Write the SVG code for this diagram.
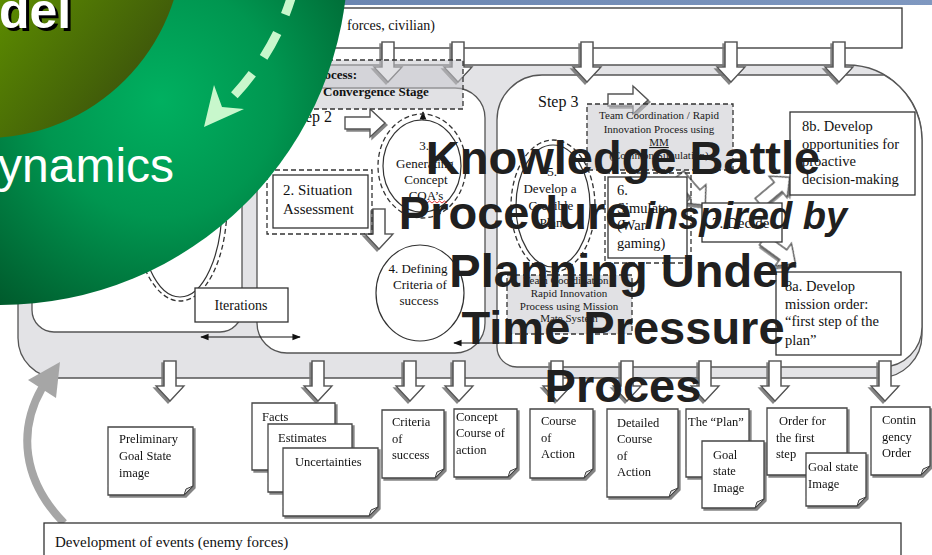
<svg xmlns="http://www.w3.org/2000/svg" xmlns:xlink="http://www.w3.org/1999/xlink" width="932" height="555" viewBox="0 0 932 555">
  <defs>
    <style>
      .serif { font-family: "Liberation Serif", "Times New Roman", serif; fill: #111; }
      .box { fill: #fff; stroke: #333; stroke-width: 1.3; }
      .dash { fill: none; stroke: #333; stroke-width: 1.3; stroke-dasharray: 5 3; }
      .shade { fill: rgba(200, 200, 206, 0.55); stroke: #333; stroke-width: 1.3; stroke-dasharray: 5 3; }
      .region { fill: #fff; stroke: #555; stroke-width: 1.3; }
      .blk { fill: #fff; stroke: #555; stroke-width: 1.4; filter: url(#shadow); }
      .doc path.paper { fill: #fff; stroke: #444; stroke-width: 1.3; }
      .doc path.fold { fill: #d8d8d8; stroke: #444; stroke-width: 1; }
      .doc { filter: url(#shadow); }
      .small { font-size: 11px; font-weight: normal; fill: #1a1a1a; }
      .title { font-family: "Liberation Sans", Arial, sans-serif; font-weight: bold; font-size: 47px; fill: #202020; }
      .slide { font-family: "Liberation Sans", Arial, sans-serif; }
    </style>
    <filter id="shadow" x="-10%" y="-10%" width="130%" height="130%">
      <feDropShadow dx="2" dy="2" stdDeviation="0.6" flood-color="#777" flood-opacity="0.9"/>
    </filter>
    <!-- hollow block arrow, pointing along +x, 40 long -->
    <path id="harrow" d="M0,-6 H25 V-14 L40,0 L25,14 V6 H0 Z"/>
    <marker id="tip" viewBox="0 0 10 10" refX="9" refY="5" markerWidth="7" markerHeight="7" orient="auto-start-reverse">
      <path d="M0,1 L10,5 L0,9 Z" fill="#111"/>
    </marker>
    <linearGradient id="topband" x1="0" y1="0" x2="1" y2="0">
      <stop offset="0" stop-color="#5f7ba8"/>
      <stop offset="1" stop-color="#7f98c0"/>
    </linearGradient>
    <radialGradient id="ring" gradientUnits="userSpaceOnUse" cx="160" cy="100" r="260">
      <stop offset="0" stop-color="#00b060"/>
      <stop offset="0.45" stop-color="#009650"/>
      <stop offset="1" stop-color="#005a2c"/>
    </radialGradient>
    <linearGradient id="olive" gradientUnits="userSpaceOnUse" x1="0" y1="0" x2="170" y2="140">
      <stop offset="0" stop-color="#5c8c00"/>
      <stop offset="0.55" stop-color="#456408"/>
      <stop offset="1" stop-color="#33400f"/>
    </linearGradient>
  </defs>

  <rect width="932" height="555" fill="#fff"/>
  <rect x="0" y="0" width="932" height="5" fill="url(#topband)"/>

  <!-- environment input box -->
  <g id="top-events">
    <rect class="box" x="200" y="8" width="702" height="40"/>
    <text class="serif" x="347" y="30" font-size="14">forces, civilian)</text>
  </g>

  <!-- process frame -->
  <g id="frame">
    <path d="M18,110 A45,45 0 0 1 63,65 L847,65 A75,75 0 0 1 922,140 L922,335 A43,43 0 0 1 879,378 L58,378 A40,40 0 0 1 18,338 Z" fill="#e3e3e6" stroke="#555" stroke-width="1.3"/>
  </g>
  <g id="step1-region">
    <rect class="region" x="32" y="78" width="210" height="254" rx="22"/>
  </g>
  <g id="step2-region">
    <rect class="region" x="257" y="88" width="228" height="265" rx="30"/>
  </g>
  <g id="step3-region">
    <path class="region" d="M497,120 A45,45 0 0 1 542,75 L884,75 A75,75 0 0 1 922,140 L922,327 A40,40 0 0 1 882,367 L517,367 A20,20 0 0 1 497,347 Z"/>
  </g>

  <!-- connectors -->
  <g id="connectors">
    <use href="#harrow" class="blk" transform="translate(388,42) rotate(90)"/>
    <use href="#harrow" class="blk" transform="translate(458,42) rotate(90)"/>
    <use href="#harrow" class="blk" transform="translate(587,42) rotate(90)"/>
    <use href="#harrow" class="blk" transform="translate(731,42) rotate(90)"/>
    <use href="#harrow" class="blk" transform="translate(839,42) rotate(90)"/>

    <use href="#harrow" class="blk" transform="translate(345,123)"/>
    <use href="#harrow" class="blk" transform="translate(379,209) rotate(90)"/>
    <use href="#harrow" class="blk" transform="translate(608,100)"/>
    <use href="#harrow" class="blk" transform="translate(679,175) rotate(49)"/>
    <use href="#harrow" class="blk" transform="translate(759,203) rotate(-40)"/>
    <use href="#harrow" class="blk" transform="translate(763,240) rotate(36)"/>

    <use href="#harrow" class="blk" transform="translate(170,361) rotate(90)"/>
    <use href="#harrow" class="blk" transform="translate(318,361) rotate(90)"/>
    <use href="#harrow" class="blk" transform="translate(410,361) rotate(90)"/>
    <use href="#harrow" class="blk" transform="translate(459,361) rotate(90)"/>
    <use href="#harrow" class="blk" transform="translate(557,361) rotate(90)"/>
    <use href="#harrow" class="blk" transform="translate(627,361) rotate(90)"/>
    <use href="#harrow" class="blk" transform="translate(705,361) rotate(90)"/>
    <use href="#harrow" class="blk" transform="translate(775,361) rotate(90)"/>
    <use href="#harrow" class="blk" transform="translate(885,361) rotate(90)"/>

    <line x1="201" y1="337" x2="300" y2="337" stroke="#111" stroke-width="1.2" marker-start="url(#tip)" marker-end="url(#tip)"/>
    <line x1="520" y1="343" x2="454" y2="343" stroke="#111" stroke-width="1.2" marker-end="url(#tip)"/>
    <line x1="423" y1="121" x2="423" y2="112" stroke="#111" stroke-width="1.2" marker-end="url(#tip)"/>

    <!-- feedback of events into the process -->
    <path d="M64,523 C22,480 18,430 42,388" fill="none" stroke="#a6a6a6" stroke-width="8"/>
    <polygon points="60,362 28,380 56,398" fill="#a6a6a6"/>
  </g>

  <!-- step 1 -->
  <g id="step1-plan">
    <ellipse cx="180" cy="205" rx="42" ry="92" fill="none" stroke="#333" stroke-width="1.2"/>
    <ellipse class="dash" cx="180" cy="205" rx="47" ry="96"/>
  </g>
  <g id="iterations">
    <rect class="box" x="195" y="288" width="93" height="34"/>
    <text class="serif" x="241" y="310" font-size="14" text-anchor="middle">Iterations</text>
  </g>

  <!-- step 2 -->
  <g id="step2-label">
    <text class="serif" x="332" y="122" font-size="16" text-anchor="end">Step 2</text>
  </g>
  <g id="convergence">
    <rect class="shade" x="200" y="60" width="263" height="49"/>
    <text class="serif" x="357" y="79" font-size="13" font-weight="bold" text-anchor="end">Process:</text>
    <text class="serif" x="323" y="96" font-size="13" font-weight="bold">Convergence Stage</text>
  </g>
  <g id="generating-coa">
    <ellipse cx="422" cy="166" rx="39" ry="46" fill="#fff" stroke="#333" stroke-width="1.2"/>
    <ellipse class="dash" cx="422" cy="166" rx="44" ry="52"/>
    <g class="serif" font-size="13" text-anchor="middle">
      <text x="424" y="150">3.</text>
      <text x="425" y="168">Generating</text>
      <text x="426" y="184">Concept</text>
      <text x="426" y="200">COA’s</text>
    </g>
    <path d="M427,203 l2.5,-2 l2.5,2 l2.5,-2 l2.5,2 l2.5,-2 l2.5,2 l2.5,-2 l2.5,2" fill="none" stroke="#e02020" stroke-width="0.9"/>
  </g>
  <g id="situation">
    <rect class="dash" x="267" y="170" width="105" height="64"/>
    <rect class="box" x="273" y="175" width="95" height="53"/>
    <text class="serif" x="283" y="195" font-size="15">2. Situation</text>
    <text class="serif" x="283" y="214" font-size="15">Assessment</text>
  </g>
  <g id="criteria">
    <ellipse cx="420" cy="293" rx="44" ry="48" fill="#fff" stroke="#333" stroke-width="1.2"/>
    <g class="serif" font-size="13" text-anchor="middle">
      <text x="418" y="273">4. Defining</text>
      <text x="420" y="289">Criteria of</text>
      <text x="419" y="305">success</text>
    </g>
  </g>

  <!-- step 3 -->
  <g id="step3-label">
    <text class="serif" x="538" y="107" font-size="16">Step 3</text>
  </g>
  <g id="team-coordination">
    <rect class="shade" x="587" y="104" width="146" height="66"/>
    <g class="serif small" text-anchor="middle">
      <text x="659" y="119">Team Coordination / Rapid</text>
      <text x="659" y="133">Innovation Process using</text>
      <text x="659" y="146" text-decoration="underline">MM</text>
      <text x="659" y="159">(Common Simulation)</text>
    </g>
  </g>
  <g id="credible-plan">
    <ellipse cx="553" cy="206" rx="37" ry="61" fill="#fff" stroke="#333" stroke-width="1.2"/>
    <ellipse class="dash" cx="553" cy="206" rx="42" ry="66"/>
    <g class="serif" font-size="13" text-anchor="middle">
      <text x="552" y="176">5.</text>
      <text x="550" y="193">Develop a</text>
      <text x="551" y="210">Credible</text>
      <text x="551" y="227">Plan</text>
    </g>
  </g>
  <g id="simulate">
    <rect class="dash" x="605" y="173" width="86" height="90"/>
    <rect class="box" x="608" y="177" width="79" height="81"/>
    <g class="serif" font-size="14.5">
      <text x="617" y="195">6.</text>
      <text x="617" y="213">Simulate</text>
      <text x="617" y="230">(War-</text>
      <text x="617" y="248">gaming)</text>
    </g>
  </g>
  <g id="mission-mate">
    <rect class="shade" x="507" y="275" width="125" height="59"/>
    <g class="serif small" text-anchor="middle">
      <text x="569" y="284">Team Coordination /</text>
      <text x="569" y="297">Rapid Innovation</text>
      <text x="569" y="310">Process using Mission</text>
      <text x="569" y="322">Mate System</text>
    </g>
  </g>
  <g id="decide">
    <rect class="box" x="702" y="203" width="80" height="39"/>
    <text class="serif" x="712" y="228" font-size="15">7. Decide</text>
  </g>
  <g id="proactive">
    <rect class="box" x="790" y="112" width="125" height="83"/>
    <g class="serif" font-size="14.5">
      <text x="802" y="131">8b. Develop</text>
      <text x="802" y="149">opportunities for</text>
      <text x="802" y="166">proactive</text>
      <text x="802" y="184">decision-making</text>
    </g>
  </g>
  <g id="mission-order">
    <rect class="box" x="776" y="272" width="125" height="83"/>
    <g class="serif" font-size="14.5">
      <text x="785" y="291">8a. Develop</text>
      <text x="785" y="309">mission order:</text>
      <text x="785" y="326">“first step of the</text>
      <text x="785" y="345">plan”</text>
    </g>
  </g>

  <!-- products -->
  <g class="serif" font-size="12.5">
    <g id="doc-goal-image" class="doc">
      <path class="paper" d="M108,427 h85 v59 l-9,9 h-76 z"/><path class="fold" d="M193,486 l-7,3 l-2,6 z"/>
      <text x="119" y="443">Preliminary</text><text x="119" y="460">Goal State</text><text x="119" y="477">image</text>
    </g>
    <g id="doc-facts" class="doc">
      <path class="paper" d="M252,403 h83 v58 l-9,9 h-74 z"/><path class="fold" d="M335,461 l-7,3 l-2,6 z"/>
      <text x="262" y="421">Facts</text>
      <path class="paper" d="M268,424 h84 v59 l-9,9 h-75 z"/><path class="fold" d="M352,483 l-7,3 l-2,6 z"/>
      <text x="278" y="442">Estimates</text>
      <path class="paper" d="M283,448 h95 v59 l-9,9 h-86 z"/><path class="fold" d="M378,507 l-7,3 l-2,6 z"/>
      <text x="295" y="466">Uncertainties</text>
    </g>
    <g id="doc-criteria" class="doc">
      <path class="paper" d="M382,410 h62 v59 l-9,9 h-53 z"/><path class="fold" d="M444,469 l-7,3 l-2,6 z"/>
      <text x="392" y="426">Criteria</text><text x="392" y="443">of</text><text x="392" y="459">success</text>
    </g>
    <g id="doc-concept" class="doc">
      <path class="paper" d="M454,409 h63 v59 l-9,9 h-54 z"/><path class="fold" d="M517,468 l-7,3 l-2,6 z"/>
      <text x="456" y="421">Concept</text><text x="456" y="437">Course of</text><text x="456" y="454">action</text>
    </g>
    <g id="doc-coa" class="doc">
      <path class="paper" d="M530,409 h63 v60 l-9,9 h-54 z"/><path class="fold" d="M593,469 l-7,3 l-2,6 z"/>
      <text x="541" y="425">Course</text><text x="541" y="442">of</text><text x="541" y="458">Action</text>
    </g>
    <g id="doc-detailed" class="doc">
      <path class="paper" d="M607,409 h71 v79 l-9,9 h-62 z"/><path class="fold" d="M678,488 l-7,3 l-2,6 z"/>
      <text x="617" y="427">Detailed</text><text x="617" y="443">Course</text><text x="617" y="460">of</text><text x="617" y="476">Action</text>
    </g>
    <g id="doc-plan" class="doc">
      <path class="paper" d="M686,409 h63 v59 l-9,9 h-54 z"/><path class="fold" d="M749,468 l-7,3 l-2,6 z"/>
      <text x="688" y="426">The “Plan”</text>
      <path class="paper" d="M702,441 h62 v58 l-9,9 h-53 z"/><path class="fold" d="M764,499 l-7,3 l-2,6 z"/>
      <text x="713" y="459">Goal</text><text x="713" y="475">state</text><text x="713" y="492">Image</text>
    </g>
    <g id="doc-order" class="doc">
      <path class="paper" d="M767,408 h80 v58 l-9,9 h-71 z"/><path class="fold" d="M847,466 l-7,3 l-2,6 z"/>
      <text x="779" y="425">Order for</text><text x="776" y="442">the first</text><text x="776" y="458">step</text>
      <path class="paper" d="M806,453 h60 v44 l-9,9 h-51 z"/><path class="fold" d="M866,497 l-7,3 l-2,6 z"/>
      <text x="808" y="471">Goal state</text><text x="808" y="488">Image</text>
    </g>
    <g id="doc-contingency" class="doc">
      <path class="paper" d="M871,407 h59 v59 l-9,9 h-50 z"/><path class="fold" d="M930,466 l-7,3 l-2,6 z"/>
      <text x="882" y="424">Contin</text><text x="882" y="441">gency</text><text x="882" y="457">Order</text>
    </g>
  </g>

  <!-- enemy events box -->
  <g id="enemy-events">
    <rect class="box" x="44" y="523" width="857" height="45"/>
    <text class="serif" x="55" y="547" font-size="15">Development of events (enemy forces)</text>
  </g>

  <!-- slide decoration: green disc with labels -->
  <g id="disc">
    <circle cx="0" cy="-43" r="348" fill="url(#ring)"/>
    <circle cx="-15" cy="-60" r="198" fill="url(#olive)"/>
    <text class="slide" x="2" y="31" font-weight="bold" font-size="50" fill="#000">del</text>
    <text class="slide" x="-1" y="28" font-weight="bold" font-size="50" fill="#fff">del</text>
    <text class="slide" x="-2" y="182" font-size="48" fill="#fff">ynamics</text>
    <path d="M294,-12 Q276,55 224,106" fill="none" stroke="#c8f7cc" stroke-width="9" stroke-dasharray="28 20"/>
    <polygon points="204,127 214,85 222,107 244,109" fill="#c8f7cc"/>
  </g>

  <!-- overlaid title -->
  <g id="title" class="title" text-anchor="middle">
    <text x="623" y="174">Knowledge Battle</text>
    <text x="623" y="229">Procedure <tspan font-style="italic" font-size="38">inspired by</tspan></text>
    <text x="623" y="287">Planning Under</text>
    <text x="623" y="344">Time Pressure</text>
    <text x="623" y="402">Proces</text>
  </g>
</svg>
